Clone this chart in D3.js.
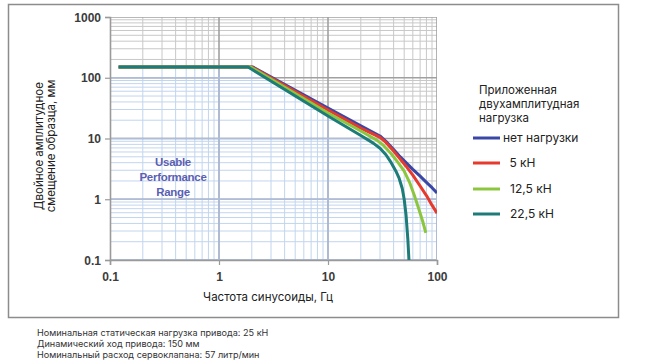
<!DOCTYPE html>
<html>
<head>
<meta charset="utf-8">
<script src="https://cdn.jsdelivr.net/npm/d3@7"></script>
<style>
  html, body { margin: 0; padding: 0; background: #fff; }
  svg { display: block; }
</style>
</head>
<body>
<svg id="chart" width="646" height="364"></svg>
<script>
// ---------- DATA ----------
const xTickValues = [0.1, 1, 10, 100];
const xTickLabels = ["0.1", "1", "10", "100"];
const yTickValues = [0.1, 1, 10, 100, 1000];
const yTickLabels = ["0.1", "1", "10", "100", "1000"];

const seriesNames = ["нет нагрузки", " 5 кН", "12,5 кН", "22,5 кН"];
const seriesColors = ["#3b47a6", "#e63a2e", "#8cc63f", "#1d7b78"];

// no load
const freqNoLoad = [0.12, 2.05, 10, 20, 30, 34, 40, 45, 52, 60, 70, 80, 90, 100];
const ampNoLoad  = [150, 150, 31.8, 16.1, 11.0, 9.0, 6.6, 5.2, 4.0, 3.1, 2.4, 1.9, 1.55, 1.27];
// 5 kN
const freq5kN = [0.12, 2.0, 10, 20, 30, 34, 40, 45, 52, 60, 70, 80, 90, 100];
const amp5kN  = [150, 150, 29.4, 14.8, 10.4, 8.6, 6.2, 4.8, 3.5, 2.5, 1.65, 1.15, 0.8, 0.59];
// 12.5 kN
const freq12kN = [0.12, 1.95, 10, 20, 28, 32, 38, 44, 50, 56, 62, 68, 74, 79];
const amp12kN  = [150, 150, 26.3, 13.3, 9.4, 7.8, 5.6, 4.0, 2.9, 1.9, 1.15, 0.7, 0.43, 0.28];
// 22.5 kN
const freq22kN = [0.12, 1.85, 10, 20, 26, 30, 34, 38, 42, 45, 48, 50, 52, 54, 55.3];
const amp22kN  = [150, 150, 23.4, 11.2, 8.4, 6.9, 5.4, 4.0, 2.9, 2.2, 1.5, 1.0, 0.55, 0.22, 0.1];

const seriesFreqs = [freqNoLoad, freq5kN, freq12kN, freq22kN];
const seriesAmps  = [ampNoLoad, amp5kN, amp12kN, amp22kN];

const xTitle = "Частота синусоиды, Гц";
const yTitleLines = ["Двойное амплитудное", "смещение образца, мм"];
const legendTitleLines = ["Приложенная", "двухамплитудная", "нагрузка"];
const rangeLabelLines = ["Usable", "Performance", "Range"];
const footerLines = [
  "Номинальная статическая нагрузка привода: 25 кН",
  "Динамический ход привода: 150 мм",
  "Номинальный расход сервоклапана: 57 литр/мин"
];

// ---------- LAYOUT ----------
const svg = d3.select("#chart");
const X0 = 110, X1 = 437, Y0 = 260, Y1 = 17;
const x = d3.scaleLog().domain([0.1, 100]).range([X0, X1]);
const y = d3.scaleLog().domain([0.1, 1000]).range([Y0, Y1]);

// outer frame
svg.append("rect")
  .attr("x", 8.5).attr("y", 4.5).attr("width", 610).attr("height", 313)
  .attr("fill", "#fff").attr("stroke", "#8c8c8c").attr("stroke-width", 1.5);

// minor tick values
const minorX = [];
[0.1, 1, 10].forEach(d => { for (let k = 2; k <= 9; k++) minorX.push(d * k); });
const minorY = [];
[0.1, 1, 10, 100].forEach(d => { for (let k = 2; k <= 9; k++) minorY.push(d * k); });

const line = d3.line().x(d => x(d[0])).y(d => y(d[1])).curve(d3.curveLinear);

// clip for usable region (under no-load envelope)
const envelope = [[0.1, ampNoLoad[0]]].concat(freqNoLoad.map((f, i) => [f, ampNoLoad[i]]));
const areaGen = d3.area()
  .x(d => x(d[0])).y0(Y0).y1(d => y(d[1]))
  .curve(d3.curveLinear);
const defs = svg.append("defs");
defs.append("clipPath").attr("id", "usable")
  .append("path").attr("d", areaGen(envelope));
defs.append("clipPath").attr("id", "plot")
  .append("rect").attr("x", X0).attr("y", Y1).attr("width", X1 - X0).attr("height", Y0 - Y1);

function drawGrid(g, xs, ys, color, width) {
  g.selectAll(null).data(xs).join("line")
    .attr("x1", d => x(d)).attr("x2", d => x(d))
    .attr("y1", Y1).attr("y2", Y0)
    .attr("stroke", color).attr("stroke-width", width);
  g.selectAll(null).data(ys).join("line")
    .attr("x1", X0).attr("x2", X1)
    .attr("y1", d => y(d)).attr("y2", d => y(d))
    .attr("stroke", color).attr("stroke-width", width);
}

const gridGrey = svg.append("g").attr("clip-path", "url(#plot)");
drawGrid(gridGrey, minorX, minorY, "#c8c8c8", 1);
const gridBlue = svg.append("g").attr("clip-path", "url(#usable)");
gridBlue.append("rect").attr("x", X0).attr("y", Y1).attr("width", X1 - X0).attr("height", Y0 - Y1).attr("fill", "#fff");
drawGrid(gridBlue, minorX, minorY, "#c2d5ef", 1);

const majorGrey = svg.append("g").attr("clip-path", "url(#plot)");
drawGrid(majorGrey, xTickValues, yTickValues, "#a0a0a0", 1.6);
const majorBlue = svg.append("g").attr("clip-path", "url(#usable)");
drawGrid(majorBlue, xTickValues, yTickValues, "#adbddb", 1.6);

// range label
const rl = svg.append("g");
rangeLabelLines.forEach((t, i) => {
  rl.append("text")
    .attr("x", 173).attr("y", 166 + i * 15)
    .attr("text-anchor", "middle")
    .attr("font-family", "Liberation Sans, Arial, sans-serif")
    .attr("font-weight", "bold").attr("font-size", 11.5)
    .attr("letter-spacing", -0.3)
    .attr("fill", "#5a5fb3")
    .text(t);
});

// axes
const yAxis = d3.axisLeft(y).tickValues(yTickValues)
  .tickFormat((d, i) => yTickLabels[i]).tickSize(5).tickPadding(4);
const xAxis = d3.axisBottom(x).tickValues(xTickValues)
  .tickFormat((d, i) => xTickLabels[i]).tickSize(5).tickPadding(7);

const gy = svg.append("g").attr("transform", `translate(${X0},0)`).call(yAxis);
const gx = svg.append("g").attr("transform", `translate(0,${Y0})`).call(xAxis);
[gx, gy].forEach(g => {
  g.select(".domain").attr("stroke", "#9a9a9a").attr("stroke-width", 1.6);
  g.selectAll(".tick line").attr("stroke", "#9a9a9a").attr("stroke-width", 1.2);
  g.selectAll(".tick text")
    .attr("font-family", "Liberation Sans, Arial, sans-serif")
    .attr("font-weight", "bold").attr("font-size", 12)
    .attr("fill", "#3c3c3c");
});
gy.selectAll(".tick text").attr("dy", "0.35em");
gx.selectAll(".tick text").attr("dy", "0.71em");

// curves
const curves = svg.append("g").attr("clip-path", "url(#plot)");
seriesFreqs.forEach((fs, si) => {
  const pts = fs.map((f, i) => [f, seriesAmps[si][i]]);
  curves.append("path")
    .attr("d", line(pts))
    .attr("fill", "none")
    .attr("stroke", seriesColors[si])
    .attr("stroke-width", 3)
    .attr("stroke-linejoin", "round");
});

// axis titles
const sansFont = "Inter, Open Sans, sans-serif";
svg.append("text")
  .attr("x", 268).attr("y", 301)
  .attr("text-anchor", "middle")
  .attr("font-family", sansFont).attr("font-size", 11.5)
  .attr("fill", "#222")
  .text(xTitle);

yTitleLines.forEach((t, i) => {
  svg.append("text")
    .attr("transform", `translate(${43 + i * 12},146) rotate(-90)`)
    .attr("text-anchor", "middle")
    .attr("font-family", sansFont).attr("font-size", 11.5)
    .attr("fill", "#222")
    .text(t);
});

// legend
const lg = svg.append("g");
legendTitleLines.forEach((t, i) => {
  lg.append("text")
    .attr("x", 479).attr("y", 94 + i * 14)
    .attr("font-family", sansFont).attr("font-size", 11.5)
    .attr("fill", "#222")
    .text(t);
});
const legendY = [138, 163, 189, 214];
const legendTextX = [503, 506, 510, 510];
seriesNames.forEach((n, i) => {
  lg.append("line")
    .attr("x1", 473).attr("x2", 500)
    .attr("y1", legendY[i]).attr("y2", legendY[i])
    .attr("stroke", seriesColors[i]).attr("stroke-width", 3);
  lg.append("text")
    .attr("x", legendTextX[i]).attr("y", legendY[i] + 4)
    .attr("font-family", sansFont).attr("font-size", 12)
    .attr("fill", "#222")
    .attr("xml:space", "preserve")
    .style("white-space", "pre")
    .text(n);
});

// footer
footerLines.forEach((t, i) => {
  svg.append("text")
    .attr("x", 37).attr("y", 336 + i * 11)
    .attr("font-family", sansFont).attr("font-size", 9.1)
    .attr("fill", "#333")
    .text(t);
});
</script>
</body>
</html>
